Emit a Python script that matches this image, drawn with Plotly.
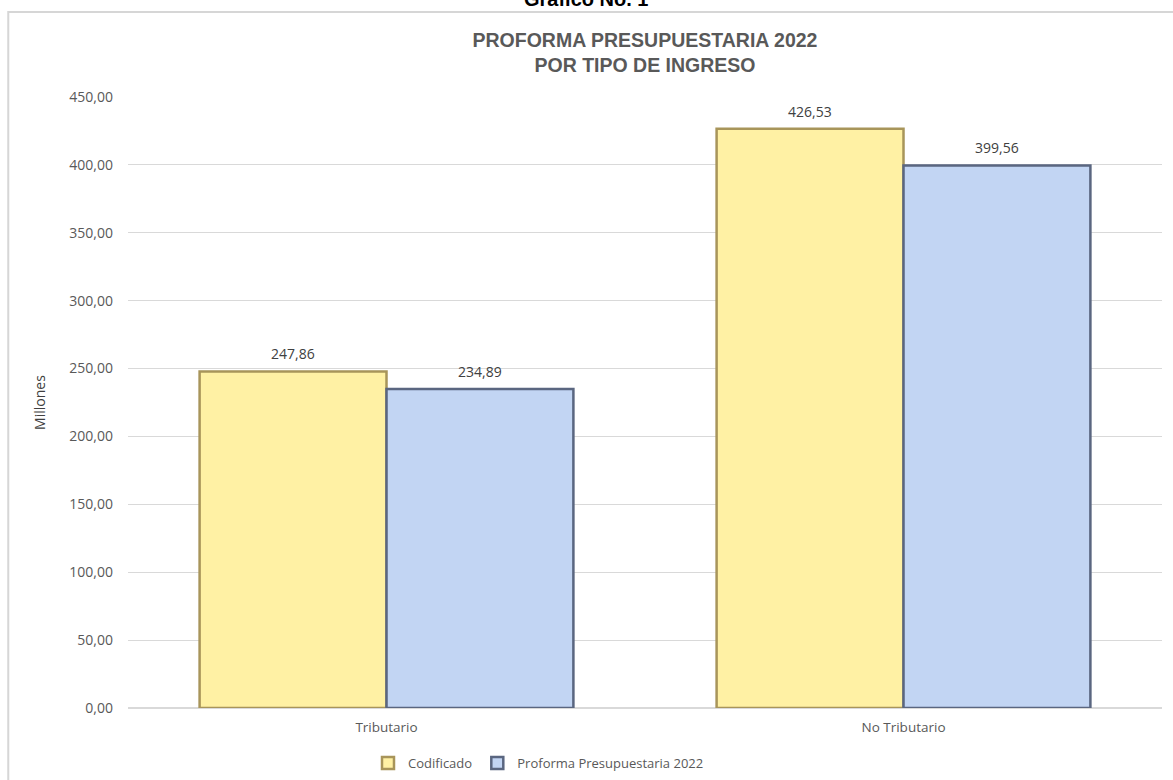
import plotly.graph_objects as go

categories = ["Tributario", "No Tributario"]
codificado = [247.86, 426.53]
proforma = [234.89, 399.56]
series_names = ["Codificado", "Proforma Presupuestaria 2022"]
y_ticks = [0, 50, 100, 150, 200, 250, 300, 350, 400, 450]

def fmt(v):
    return f"{v:,.2f}".replace(",", "X").replace(".", ",").replace("X", ".")

FONT = "Open Sans, Noto Sans, sans-serif"
NARROW = "Liberation Sans Narrow, Arial Narrow, Liberation Sans, sans-serif"
GRAY = "#595959"

fig = go.Figure()
fig.add_trace(go.Bar(
    x=categories, y=codificado, name=series_names[0], offsetgroup="a",
    marker=dict(color="#FFF1A4", line=dict(color="#A8955A", width=2.5)),
))
fig.add_trace(go.Bar(
    x=categories, y=proforma, name=series_names[1], offsetgroup="b",
    marker=dict(color="#C2D5F3", line=dict(color="#5A6680", width=2.5)),
))

annotations = []
group_offsets = [-0.18, 0.18]
for s, vals in enumerate([codificado, proforma]):
    for i, v in enumerate(vals):
        annotations.append(dict(
            x=i + group_offsets[s], y=v, xref="x", yref="y", text=fmt(v), showarrow=False,
            yanchor="bottom", xanchor="center", yshift=6,
            font=dict(size=14, color="#404040", family=FONT)))

annotations.append(dict(text="<b>Gráfico No. 1</b>", xref="paper", yref="paper", x=0.443, y=1.139,
                        xanchor="center", yanchor="bottom", showarrow=False,
                        font=dict(size=20, color="black", family=NARROW)))

fig.update_layout(
    width=1173, height=780,
    margin=dict(l=128, r=11, t=97, b=72, autoexpand=False),
    paper_bgcolor="white", plot_bgcolor="white",
    barmode="group", bargap=0.277, bargroupgap=0,
    font=dict(family=FONT, color=GRAY, size=12),
    showlegend=True,
    legend=dict(orientation="h", x=0.397, xanchor="center", y=-0.090, yanchor="middle",
                font=dict(size=13, color=GRAY, family=FONT), itemwidth=30),
    title=dict(
        text="<b>PROFORMA PRESUPUESTARIA 2022<br>POR TIPO DE INGRESO</b>",
        x=0.5, xref="paper", xanchor="center", y=0.9403, yanchor="top",
        font=dict(size=19.5, color=GRAY, family=NARROW),
    ),
    xaxis=dict(showline=False, ticks="", automargin=False, ticklabelstandoff=9,
               tickfont=dict(size=13.5, color=GRAY, family=FONT)),
    yaxis=dict(
        range=[0, 450], tickvals=y_ticks, ticktext=[fmt(v) for v in y_ticks], automargin=False,
        showgrid=True, gridcolor="#D9D9D9", gridwidth=1, zeroline=True, zerolinecolor="#D9D9D9",
        ticks="", ticklabelstandoff=14, tickfont=dict(size=14, color=GRAY, family=FONT),
        title=dict(text="Millones", font=dict(size=14, color="#404040", family=FONT), standoff=20),
    ),
    shapes=[dict(type="rect", xref="paper", yref="paper", x0=-0.1158, x1=1.03, y0=-0.2, y1=1.139,
                 line=dict(color="#D6D6D6", width=2), fillcolor="rgba(0,0,0,0)", layer="below")],
    annotations=annotations,
)

fig.write_html("out.html", config={"displayModeBar": False},
               post_script="document.body.style.margin='0px';")
